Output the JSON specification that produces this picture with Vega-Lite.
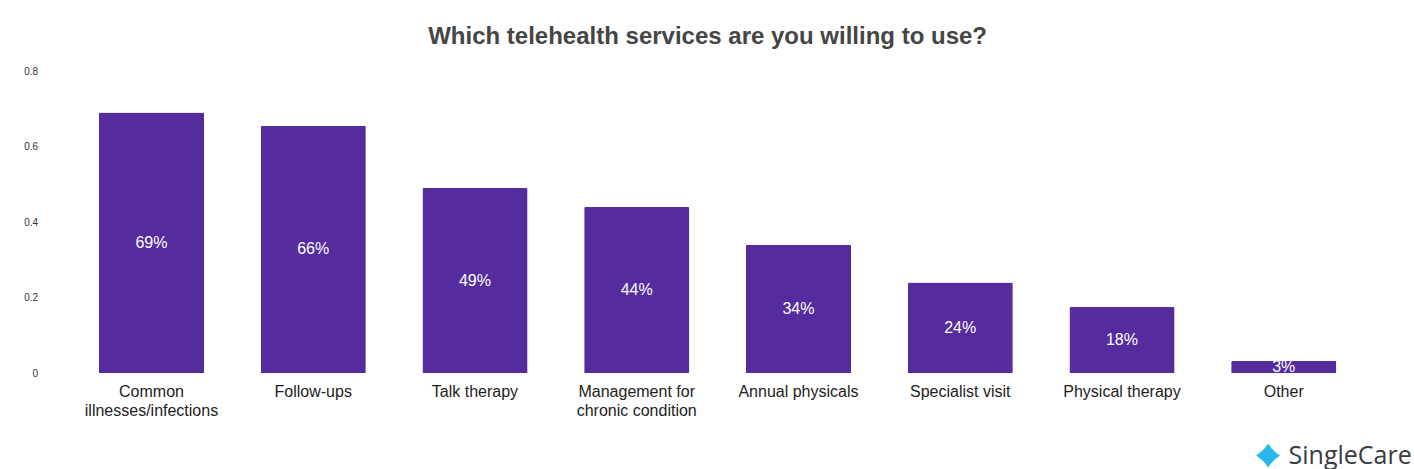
{
  "$schema": "https://vega.github.io/schema/vega-lite/v6.json",
  "autosize": "none",
  "width": 1294,
  "height": 302,
  "padding": {"left": 70.6, "top": 71, "right": 49.4, "bottom": 96},
  "background": "white",
  "title": {
    "text": "Which telehealth services are you willing to use?",
    "font": "Liberation Sans",
    "fontSize": 24,
    "fontWeight": "bold",
    "color": "#454545",
    "anchor": "middle",
    "frame": "group",
    "offset": 17,
    "dx": -10
  },
  "config": {"view": {"stroke": null}},
  "data": {
    "values": [
      {"service": "Common illnesses/infections", "value": 0.69, "label": "69%"},
      {"service": "Follow-ups", "value": 0.655, "label": "66%"},
      {"service": "Talk therapy", "value": 0.49, "label": "49%"},
      {"service": "Management for chronic condition", "value": 0.44, "label": "44%"},
      {"service": "Annual physicals", "value": 0.34, "label": "34%"},
      {"service": "Specialist visit", "value": 0.24, "label": "24%"},
      {"service": "Physical therapy", "value": 0.175, "label": "18%"},
      {"service": "Other", "value": 0.032, "label": "3%"}
    ]
  },
  "encoding": {
    "x": {
      "field": "service",
      "type": "nominal",
      "sort": null,
      "scale": {"paddingInner": 0.35, "paddingOuter": 0.175},
      "axis": {
        "title": null,
        "labelAngle": 0,
        "labelFont": "Liberation Sans",
        "labelFontSize": 16,
        "labelColor": "#222222",
        "labelPadding": 10,
        "labelLineHeight": 19,
        "labelLimit": 300,
        "domain": false,
        "ticks": false,
        "labelExpr": "datum.value == 'Common illnesses/infections' ? ['Common', 'illnesses/infections'] : datum.value == 'Management for chronic condition' ? ['Management for', 'chronic condition'] : datum.value"
      }
    }
  },
  "layer": [
    {
      "mark": {"type": "bar", "color": "#542c9e", "cornerRadiusTopLeft": 1.5, "cornerRadiusTopRight": 1.5},
      "encoding": {
        "y": {
          "field": "value",
          "type": "quantitative",
          "scale": {"domain": [0, 0.8]},
          "axis": {
            "title": null,
            "values": [0, 0.2, 0.4, 0.6, 0.8],
            "labelExpr": "datum.value == 0 ? '0' : format(datum.value, '.1f')",
            "labelFont": "Liberation Sans",
            "labelFontSize": 10,
            "labelColor": "#333333",
            "labelPadding": 33,
            "grid": false,
            "domain": false,
            "ticks": false
          }
        }
      }
    },
    {
      "mark": {"type": "text", "color": "white", "font": "Liberation Sans", "fontSize": 16, "baseline": "middle"},
      "encoding": {
        "y": {"field": "value", "type": "quantitative", "scale": {"domain": [0, 1.6]}, "axis": null},
        "text": {"field": "label"}
      }
    },
    {
      "mark": {"type": "point", "filled": true, "opacity": 0},
      "encoding": {
        "y": {"field": "value", "type": "quantitative", "scale": {"domain": [0, 0.8]}, "axis": null},
        "color": {
          "datum": "SingleCare",
          "scale": {"range": ["#29b8ee"]},
          "legend": {
            "title": null,
            "orient": "none",
            "legendX": 1185,
            "legendY": 372,
            "symbolType": "M0,-1 C0.3,-0.55 0.55,-0.3 1,0 C0.55,0.3 0.3,0.55 0,1 C-0.3,0.55 -0.55,0.3 -1,0 C-0.55,-0.3 -0.3,-0.55 0,-1 Z",
            "symbolSize": 576,
            "symbolOpacity": 1,
            "symbolFillColor": "#29b8ee",
            "symbolStrokeColor": "#29b8ee",
            "symbolStrokeWidth": 0,
            "labelFont": "Open Sans",
            "labelFontSize": 25,
            "labelColor": "#3a3a44",
            "labelOffset": 8,
            "padding": 0
          }
        }
      }
    }
  ],
  "resolve": {"scale": {"y": "independent"}}
}
